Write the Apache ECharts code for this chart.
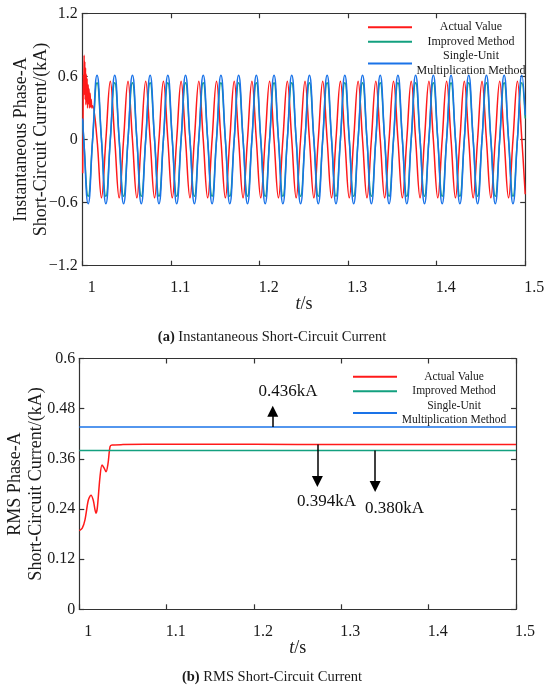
<!DOCTYPE html>
<html>
<head>
<meta charset="utf-8">
<title>Short-Circuit Current</title>
<script src="https://cdn.jsdelivr.net/npm/echarts@6/dist/echarts.min.js"></script>
<style>
    html, body { margin: 0; padding: 0; background: #fff; }
    #chart { width: 550px; height: 688px; }
</style>
</head>
<body>
<div id="chart"></div>
<script>
/*---------------------------- data ----------------------------*/
// (a) instantaneous current, sampled at peaks / zero crossings (50 Hz)
var tInst = [1.0000,
    1.0012, 1.0062, 1.0112, 1.0162,
    1.0212, 1.0262, 1.0312, 1.0362,
    1.0412, 1.0462, 1.0512, 1.0562,
    1.0612, 1.0662, 1.0712, 1.0762,
    1.0812, 1.0862, 1.0912, 1.0962,
    1.1012, 1.1062, 1.1112, 1.1162,
    1.1212, 1.1262, 1.1312, 1.1362,
    1.1412, 1.1462, 1.1512, 1.1562,
    1.1612, 1.1662, 1.1712, 1.1762,
    1.1812, 1.1862, 1.1912, 1.1962,
    1.2012, 1.2062, 1.2112, 1.2162,
    1.2212, 1.2262, 1.2312, 1.2362,
    1.2412, 1.2462, 1.2512, 1.2562,
    1.2612, 1.2662, 1.2712, 1.2762,
    1.2812, 1.2862, 1.2912, 1.2962,
    1.3012, 1.3062, 1.3112, 1.3162,
    1.3212, 1.3262, 1.3312, 1.3362,
    1.3412, 1.3462, 1.3512, 1.3562,
    1.3612, 1.3662, 1.3712, 1.3762,
    1.3812, 1.3862, 1.3912, 1.3962,
    1.4012, 1.4062, 1.4112, 1.4162,
    1.4212, 1.4262, 1.4312, 1.4362,
    1.4412, 1.4462, 1.4512, 1.4562,
    1.4612, 1.4662, 1.4712, 1.4762,
    1.4812, 1.4862, 1.4912, 1.4962,
    1.5000];

var redInst = [-0.32,
    0.42, 0.52, 0.32, 0,
    -0.555, 0, 0.555, 0,
    -0.555, 0, 0.555, 0,
    -0.555, 0, 0.555, 0,
    -0.555, 0, 0.555, 0,
    -0.555, 0, 0.555, 0,
    -0.555, 0, 0.555, 0,
    -0.555, 0, 0.555, 0,
    -0.555, 0, 0.555, 0,
    -0.555, 0, 0.555, 0,
    -0.555, 0, 0.555, 0,
    -0.555, 0, 0.555, 0,
    -0.555, 0, 0.555, 0,
    -0.555, 0, 0.555, 0,
    -0.555, 0, 0.555, 0,
    -0.555, 0, 0.555, 0,
    -0.555, 0, 0.555, 0,
    -0.555, 0, 0.555, 0,
    -0.555, 0, 0.555, 0,
    -0.555, 0, 0.555, 0,
    -0.555, 0, 0.555, 0,
    -0.555, 0, 0.555, 0,
    -0.555, 0, 0.555, 0,
    -0.555, 0, 0.555, 0,
    -0.555, 0, 0.555, 0,
    -0.52];

// fault transient of the actual value right after t = 1 s
var redSpikeT = [1.0004, 1.0008, 1.0016, 1.0020, 1.0024, 1.0028, 1.0032, 1.0036, 1.0040, 1.0045,
    1.0050, 1.0055, 1.0067, 1.0072, 1.0078, 1.0084, 1.0090, 1.0096, 1.0104];
var redSpikeI = [0.15, 0.62, 0.80, 0.48, 0.74, 0.38, 0.68, 0.33, 0.62, 0.36,
    0.58, 0.30, 0.34, 0.48, 0.30, 0.44, 0.31, 0.38, 0.30];

var greenInst = [0.18,
    0, -0.54, 0, 0.54,
    0, -0.54, 0, 0.54,
    0, -0.54, 0, 0.54,
    0, -0.54, 0, 0.54,
    0, -0.54, 0, 0.54,
    0, -0.54, 0, 0.54,
    0, -0.54, 0, 0.54,
    0, -0.54, 0, 0.54,
    0, -0.54, 0, 0.54,
    0, -0.54, 0, 0.54,
    0, -0.54, 0, 0.54,
    0, -0.54, 0, 0.54,
    0, -0.54, 0, 0.54,
    0, -0.54, 0, 0.54,
    0, -0.54, 0, 0.54,
    0, -0.54, 0, 0.54,
    0, -0.54, 0, 0.54,
    0, -0.54, 0, 0.54,
    0, -0.54, 0, 0.54,
    0, -0.54, 0, 0.54,
    0, -0.54, 0, 0.54,
    0, -0.54, 0, 0.54,
    0, -0.54, 0, 0.54,
    0, -0.54, 0, 0.54,
    0, -0.54, 0, 0.54,
    0.20];

var blueInst = [0.20,
    0, -0.61, 0, 0.61,
    0, -0.61, 0, 0.61,
    0, -0.61, 0, 0.61,
    0, -0.61, 0, 0.61,
    0, -0.61, 0, 0.61,
    0, -0.61, 0, 0.61,
    0, -0.61, 0, 0.61,
    0, -0.61, 0, 0.61,
    0, -0.61, 0, 0.61,
    0, -0.61, 0, 0.61,
    0, -0.61, 0, 0.61,
    0, -0.61, 0, 0.61,
    0, -0.61, 0, 0.61,
    0, -0.61, 0, 0.61,
    0, -0.61, 0, 0.61,
    0, -0.61, 0, 0.61,
    0, -0.61, 0, 0.61,
    0, -0.61, 0, 0.61,
    0, -0.61, 0, 0.61,
    0, -0.61, 0, 0.61,
    0, -0.61, 0, 0.61,
    0, -0.61, 0, 0.61,
    0, -0.61, 0, 0.61,
    0, -0.61, 0, 0.61,
    0, -0.61, 0, 0.61,
    0.23];

// (b) RMS current
var tRms = [1.0, 1.0034, 1.0065, 1.0103, 1.0134, 1.0160, 1.0191, 1.0206, 1.0237, 1.0260,
    1.0286, 1.0306, 1.0329, 1.0352, 1.0375, 1.05, 1.1, 1.2, 1.3, 1.4, 1.5];
var redRms = [0.188, 0.194, 0.214, 0.261, 0.273, 0.261, 0.230, 0.242, 0.317, 0.345,
    0.337, 0.329, 0.349, 0.389, 0.393, 0.394, 0.395, 0.395, 0.394, 0.394, 0.394];
var tFlat = [1.0, 1.5];
var greenRms = [0.380, 0.380];
var blueRms = [0.436, 0.436];

// arrows and value notes in (b)
var arrowT = [1.2215, 1.2726, 1.3387];
var arrowFrom = [0.436, 0.394, 0.380];
var arrowTo = [0.474, 0.306, 0.294];
var noteT = [1.239, 1.283, 1.361];
var noteV = [0.520, 0.257, 0.242];
var noteText = ['0.436kA', '0.394kA', '0.380kA'];

var xTicks = { min: 1, max: 1.5, interval: 0.1 };
var yInstTicks = { min: -1.2, max: 1.2, interval: 0.6 };
var yRmsTicks = { min: 0, max: 0.6, interval: 0.12 };

var seriesNames = ['Actual Value', 'Improved Method', 'Single-Unit Multiplication Method'];
var redColor = '#FF1A1A';
var greenColor = '#13A07F';
var blueColor = '#1A73E8';
var serif = "'Liberation Serif', 'Times New Roman', serif";
var inkColor = '#1a1a1a';

/*---------------------------- chart ----------------------------*/
var myChart = echarts.init(document.getElementById('chart'));

function pairs(xs, ys) {
    var out = [];
    for (var i = 0; i < xs.length; i++) {
        out.push([xs[i], ys[i]]);
    }
    return out;
}

function minusSign(v) {
    return String(v).replace('-', '\u2212');
}

function xAxes(gridIndex) {
    var base = {
        type: 'value',
        gridIndex: gridIndex,
        min: xTicks.min,
        max: xTicks.max,
        interval: xTicks.interval,
        splitLine: { show: false },
        axisLine: { show: true, onZero: false, lineStyle: { color: '#333', width: 1.2 } },
        axisTick: { show: true, inside: true, length: 5, lineStyle: { color: '#333', width: 1.2 } }
    };
    var bottom = echarts.util.merge({
        position: 'bottom',
        name: '{i|t}/s',
        nameLocation: 'middle',
        nameGap: 30,
        nameMoveOverlap: false,
        nameTextStyle: {
            fontFamily: serif, fontSize: 18, color: inkColor,
            rich: { i: { fontFamily: serif, fontSize: 18, fontStyle: 'italic', color: inkColor } }
        },
        axisLabel: {
            margin: 14,
            padding: [0, 0, 0, 18],
            fontFamily: serif,
            fontSize: 16,
            color: inkColor
        }
    }, base, true);
    var top = echarts.util.merge({
        position: 'top',
        axisLabel: { show: false }
    }, base, true);
    return [bottom, top];
}

function yAxes(gridIndex, ticks, name, nameGap, lineHeight, labelMargin) {
    var base = {
        type: 'value',
        gridIndex: gridIndex,
        min: ticks.min,
        max: ticks.max,
        interval: ticks.interval,
        splitLine: { show: false },
        axisLine: { show: true, onZero: false, lineStyle: { color: '#333', width: 1.2 } },
        axisTick: { show: true, inside: true, length: 5, lineStyle: { color: '#333', width: 1.2 } }
    };
    var left = echarts.util.merge({
        position: 'left',
        name: name,
        nameLocation: 'middle',
        nameRotate: 90,
        nameGap: nameGap,
        nameMoveOverlap: false,
        nameTextStyle: { fontFamily: serif, fontSize: 18, lineHeight: lineHeight, color: inkColor },
        axisLabel: {
            margin: labelMargin,
            fontFamily: serif,
            fontSize: 16,
            color: inkColor,
            formatter: minusSign
        }
    }, base, true);
    var right = echarts.util.merge({
        position: 'right',
        axisLabel: { show: false }
    }, base, true);
    return [left, right];
}

function legendBlock(left, top, textWidth, fontSize, lineHeight) {
    return {
        orient: 'vertical',
        left: left,
        top: top,
        padding: 0,
        itemGap: 0,
        itemWidth: 44,
        itemHeight: 2,
        icon: 'rect',
        selectedMode: false,
        data: seriesNames,
        formatter: function (name) {
            if (name === 'Single-Unit Multiplication Method') {
                return '{a|Single-Unit}\n{a|Multiplication Method}';
            }
            return '{a|' + name + '}';
        },
        textStyle: {
            fontFamily: serif,
            fontSize: fontSize,
            lineHeight: lineHeight,
            color: inkColor,
            rich: {
                a: {
                    width: textWidth,
                    height: lineHeight,
                    align: 'center',
                    fontFamily: serif,
                    fontSize: fontSize,
                    lineHeight: lineHeight,
                    color: inkColor
                }
            }
        }
    };
}

function lineSeries(name, color, xIndex, data, smooth, extra) {
    var s = {
        name: name,
        type: 'line',
        xAxisIndex: xIndex,
        yAxisIndex: xIndex,
        data: data,
        color: color,
        symbol: 'none',
        smooth: smooth,
        lineStyle: { color: color, width: 1.5 },
        emphasis: { disabled: true }
    };
    return echarts.util.merge(s, extra || {}, true);
}

function arrow(i) {
    return [{ coord: [arrowT[i], arrowFrom[i]] }, { coord: [arrowT[i], arrowTo[i]] }];
}

var arrowStyle = {
    silent: true,
    symbol: ['none', 'triangle'],
    symbolSize: 11,
    label: { show: false },
    lineStyle: { color: '#000', width: 1.5, type: 'solid' },
    itemStyle: { color: '#000' }
};

var redInstData = pairs(tInst, redInst).concat(pairs(redSpikeT, redSpikeI)).sort(function (a, b) {
    return a[0] - b[0];
});

var option = {
    animation: false,
    backgroundColor: '#fff',
    grid: [
        { left: 82.7, top: 13.3, width: 442.5, height: 252.4, containLabel: false, outerBoundsMode: 'none' },
        { left: 79.3, top: 358.5, width: 436.7, height: 250.8, containLabel: false, outerBoundsMode: 'none' }
    ],
    xAxis: xAxes(0).concat(xAxes(1)),
    yAxis: yAxes(0, yInstTicks, 'Instantaneous Phase-A\nShort-Circuit Current/(kA)', 31, 20, 5)
        .concat(yAxes(1, yRmsTicks, 'RMS Phase-A\nShort-Circuit Current/(kA)', 33, 21, 4)),
    legend: [
        legendBlock(368, 20, 108, 12, 14.5),
        legendBlock(353, 369.5, 104, 11.5, 14.5)
    ],
    series: [
        lineSeries(seriesNames[0], redColor, 0, redInstData, 0.4),
        lineSeries(seriesNames[1], greenColor, 0, pairs(tInst, greenInst), 0.5),
        lineSeries(seriesNames[2], blueColor, 0, pairs(tInst, blueInst), 0.5),
        lineSeries(seriesNames[0], redColor, 2, pairs(tRms, redRms), 0.3,
            { markLine: echarts.util.merge({ data: [arrow(1)] }, arrowStyle, true) }),
        lineSeries(seriesNames[1], greenColor, 2, pairs(tFlat, greenRms), false,
            { markLine: echarts.util.merge({ data: [arrow(2)] }, arrowStyle, true) }),
        lineSeries(seriesNames[2], blueColor, 2, pairs(tFlat, blueRms), false,
            { markLine: echarts.util.merge({ data: [arrow(0)] }, arrowStyle, true) })
    ]
};

myChart.setOption(option);

// captions and value notes, placed through the RMS axes
var graphics = [
    {
        type: 'text', x: 272, y: 337,
        style: {
            text: '{b|(a)} Instantaneous Short-Circuit Current',
            fontFamily: serif, fontSize: 14.5, fill: inkColor,
            align: 'center', verticalAlign: 'middle',
            rich: { b: { fontFamily: serif, fontSize: 14.5, fontWeight: 'bold', color: inkColor } }
        }
    },
    {
        type: 'text', x: 272, y: 677,
        style: {
            text: '{b|(b)} RMS Short-Circuit Current',
            fontFamily: serif, fontSize: 14.5, fill: inkColor,
            align: 'center', verticalAlign: 'middle',
            rich: { b: { fontFamily: serif, fontSize: 14.5, fontWeight: 'bold', color: inkColor } }
        }
    }
];
for (var i = 0; i < noteText.length; i++) {
    var p = myChart.convertToPixel({ xAxisIndex: 2, yAxisIndex: 2 }, [noteT[i], noteV[i]]);
    graphics.push({
        type: 'text', x: p[0], y: p[1], silent: true,
        style: {
            text: noteText[i], fontFamily: serif, fontSize: 17, fill: '#111',
            align: 'center', verticalAlign: 'middle'
        }
    });
}
myChart.setOption({ graphic: graphics });
</script>
</body>
</html>
